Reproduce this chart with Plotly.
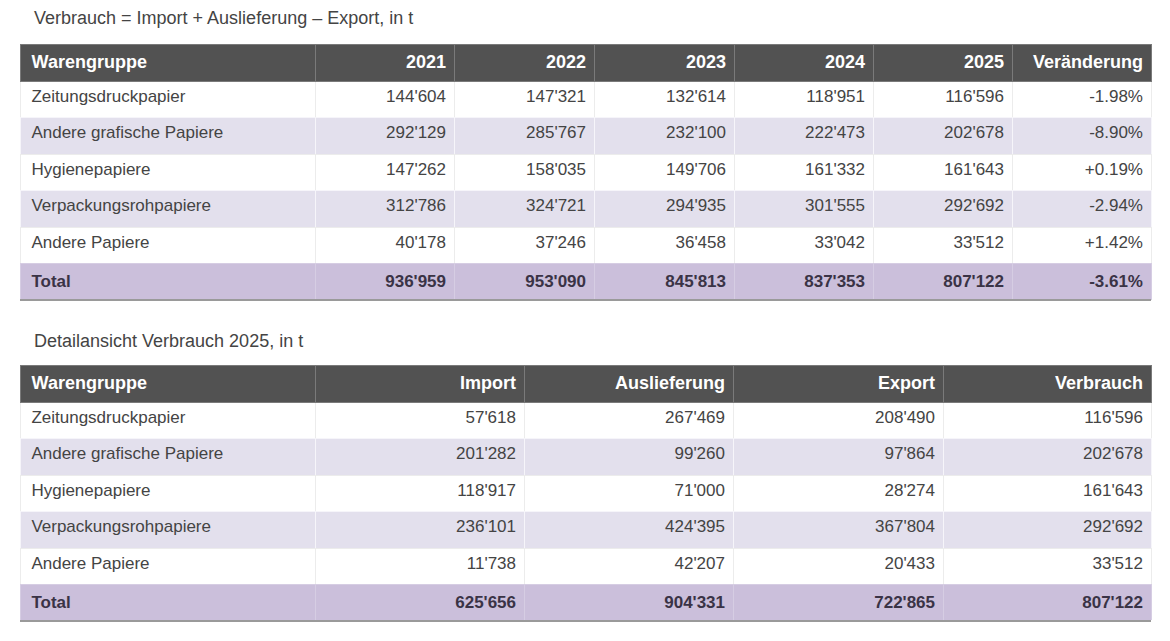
import plotly.graph_objects as go

# page has an 8px body margin, so the figure is drawn 8px in from the window edge
OFF = 8
W, H = 1170 - 2 * OFF, 641 - 2 * OFF

# Daten
groups = ["Zeitungsdruckpapier", "Andere grafische Papiere", "Hygienepapiere",
          "Verpackungsrohpapiere", "Andere Papiere"]
years = ["2021", "2022", "2023", "2024", "2025"]
v2021 = [144604, 292129, 147262, 312786, 40178]
v2022 = [147321, 285767, 158035, 324721, 37246]
v2023 = [132614, 232100, 149706, 294935, 36458]
v2024 = [118951, 222473, 161332, 301555, 33042]
v2025 = [116596, 202678, 161643, 292692, 33512]
totals_years = [936959, 953090, 845813, 837353, 807122]
change = ["-1.98%", "-8.90%", "+0.19%", "-2.94%", "+1.42%"]
change_total = "-3.61%"

detail_cols = ["Import", "Auslieferung", "Export", "Verbrauch"]
imp = [57618, 201282, 118917, 236101, 11738]
ausl = [267469, 99260, 71000, 424395, 42207]
exp = [208490, 97864, 28274, 367804, 20433]
verb = [116596, 202678, 161643, 292692, 33512]
totals_detail = [625656, 904331, 722865, 807122]

title1 = "Verbrauch = Import + Auslieferung \u2013 Export, in t"
title2 = "Detailansicht Verbrauch 2025, in t"

# Stil
HEAD = "#525252"
ALT = "#e3e0ed"
TOT = "#cbbfdb"
TXT = "#444444"
TOTTXT = "#3a3346"
FONT = "Liberation Sans"


def fmt(v):
    return f"{v:,}".replace(",", "'")


def body_col(vals, total, is_text=False):
    cells = [v if is_text else fmt(v) for v in vals]
    cells.append("<b>" + (total if is_text else fmt(total)) + "</b>")
    return cells


def px(x):
    return (x - OFF) / W


def py(y):
    return 1 - (y - OFF) / H


fills = ["white", ALT, "white", ALT, "white", TOT]
lines = ["#ececec", "#f6f5fa", "#ececec", "#f6f5fa", "#ececec", "#d6cde3"]
fontcol = [TXT] * 5 + [TOTTXT]


def make_table(headers, columns, widths, x0, x1, y0, y1):
    ncol = len(headers)
    return go.Table(
        domain=dict(x=[px(x0), px(x1)], y=[py(y1), py(y0)]),
        columnwidth=widths,
        header=dict(
            values=["<b>" + h + "</b>" for h in headers],
            fill_color=HEAD,
            line=dict(color="#7a7a7a", width=1),
            font=dict(family=FONT, size=18, color="white"),
            align=["left"] + ["right"] * (ncol - 1),
            height=37,
        ),
        cells=dict(
            values=columns,
            fill_color=[fills] * ncol,
            line=dict(color=[lines] * ncol, width=1),
            font=dict(family=FONT, size=17, color=[fontcol] * ncol),
            align=["left"] + ["right"] * (ncol - 1),
            height=36.5,
        ),
    )


cols1 = [body_col(["\u2009" + g for g in groups], "\u2009Total", True)]
for vals, tot in zip([v2021, v2022, v2023, v2024, v2025], totals_years):
    cols1.append(body_col(vals, tot))
cols1.append(body_col(change, change_total, True))

cols2 = [body_col(["\u2009" + g for g in groups], "\u2009Total", True)]
for vals, tot in zip([imp, ausl, exp, verb], totals_detail):
    cols2.append(body_col(vals, tot))

fig = go.Figure()
fig.add_trace(make_table(["\u2009Warengruppe"] + years + ["Veränderung"], cols1,
                         [295, 139, 140, 140, 139, 139, 139], 20, 1151, 44, 300))
fig.add_trace(make_table(["\u2009Warengruppe"] + detail_cols, cols2,
                         [295, 209, 209, 210, 208], 20, 1151, 365, 621))

for ty, txt in [(18, title1), (341, title2)]:
    fig.add_annotation(x=px(32), y=py(ty), xref="paper", yref="paper",
                       xanchor="left", yanchor="middle", showarrow=False,
                       text=txt, font=dict(family=FONT, size=18, color=TXT))

for by in [300, 621]:
    fig.add_shape(type="line", xref="paper", yref="paper",
                  x0=px(20), x1=px(1151), y0=py(by), y1=py(by),
                  line=dict(color="#9a9a9a", width=2))

fig.update_layout(width=W, height=H, margin=dict(l=0, r=0, t=0, b=0),
                  paper_bgcolor="white", plot_bgcolor="white")

fig.write_html("out.html")
